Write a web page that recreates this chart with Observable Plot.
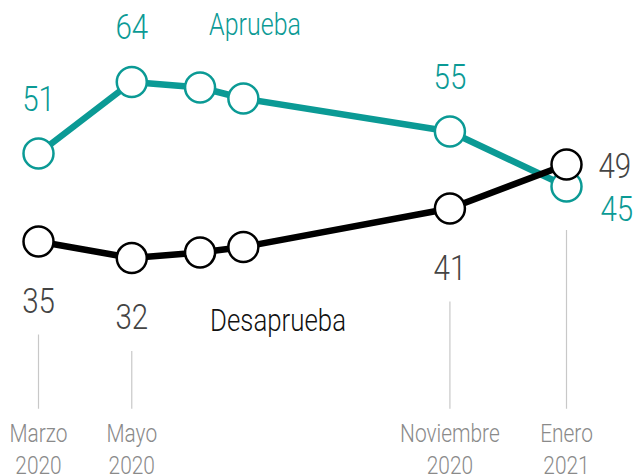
<!DOCTYPE html>
<html><head><meta charset="utf-8">
<script src="https://cdn.jsdelivr.net/npm/d3@7"></script>
<script src="https://cdn.jsdelivr.net/npm/@observablehq/plot@0.6"></script>
<style>
body{margin:0;background:#fff}
#chart svg{display:block}
</style></head><body><div id="chart"></div>
<script>
// Data
const dates = ["2020-03-10","2020-05-05","2020-06-15","2020-07-11","2020-11-12","2021-01-21"];
const tickLabels = ["Marzo\n2020","Mayo\n2020","","","Noviembre\n2020","Enero\n2021"];
const aprueba = [51,64,63,61,55,45];
const desaprueba = [35,32,33,34,41,49];
const labeled = [true,true,false,false,true,true];
const seriesNames = ["Aprueba","Desaprueba"];

const teal = "#0b9a95";
const dark = "#000";
const parse = d3.utcParse("%Y-%m-%d");
const X = dates.map(parse);
const last = X.length - 1;

const rowsA = X.map((d,i)=>({date:d, value:aprueba[i], i}));
const rowsD = X.map((d,i)=>({date:d, value:desaprueba[i], i}));

const ticks = X.map((d,i)=>({date:d, label:tickLabels[i], i,
  top: i === last ? Math.min(aprueba[i],desaprueba[i]) - 8 : desaprueba[i] - 17}))
  .filter(t=>t.label);

const font = "Roboto,'DejaVu Sans Condensed',sans-serif";

const chart = Plot.plot({
  width: 634, height: 475,
  marginTop: 0, marginRight: 0, marginBottom: 0, marginLeft: 0,
  style: {fontFamily: font, fontWeight: 300, background: "#fff", overflow: "visible"},
  x: {type: "utc", domain: [X[0], X[last]], range: [38, 566], axis: null},
  y: {domain: [30, 70], range: [268.5, 48.5], axis: null},
  marks: [
    Plot.ruleX(ticks, {x: "date", y1: "top", y2: 4.5, stroke: "#c8c8c8", strokeWidth: 1.2}),
    Plot.text(ticks, {x: "date", text: "label", frameAnchor: "bottom", lineAnchor: "bottom",
      dy: -2, lineHeight: 1.22, fontSize: 25.5, fill: "#8a8a8a"}),
    Plot.line(rowsA, {x: "date", y: "value", stroke: teal, strokeWidth: 6.5}),
    Plot.dot(rowsA, {x: "date", y: "value", r: 15, fill: "#fff", stroke: teal, strokeWidth: 2.5}),
    Plot.line(rowsD, {x: "date", y: "value", stroke: dark, strokeWidth: 6.5}),
    Plot.dot(rowsD, {x: "date", y: "value", r: 15, fill: "#fff", stroke: dark, strokeWidth: 2.5}),
    // value labels
    Plot.text(rowsA.filter(r=>labeled[r.i] && r.i!==last), {x:"date", y:"value", text: d=>String(d.value),
      dy: -43, lineAnchor: "bottom", fontSize: 36, fill: teal}),
    Plot.text(rowsD.filter(r=>labeled[r.i] && r.i!==last), {x:"date", y:"value", text: d=>String(d.value),
      dy: 71, lineAnchor: "bottom", fontSize: 36, fill: "#444"}),
    Plot.text(rowsD.filter(r=>r.i===last), {x:"date", y:"value", text: d=>String(d.value),
      dx: 32, dy: 2, textAnchor: "start", lineAnchor: "middle", fontSize: 36, fill: "#444"}),
    Plot.text(rowsA.filter(r=>r.i===last), {x:"date", y:"value", text: d=>String(d.value),
      dx: 34, dy: 23, textAnchor: "start", lineAnchor: "middle", fontSize: 36, fill: teal}),
    // series labels
    Plot.text(rowsA.filter(r=>r.i===2), {x:"date", y:"value", text: ()=>seriesNames[0],
      dx: 9, dy: -53, textAnchor: "start", lineAnchor: "bottom", fontSize: 30.5, fill: teal}),
    Plot.text(rowsD.filter(r=>r.i===2), {x:"date", y:"value", text: ()=>seriesNames[1],
      dx: 10, dy: 78, textAnchor: "start", lineAnchor: "bottom", fontSize: 31.5, fill: "#111"})
  ]
});
// condensed look: compress text horizontally around each anchor
chart.querySelectorAll("text").forEach(t => {
  const tr = t.getAttribute("transform") || "";
  t.setAttribute("transform", (tr + " scale(0.82,1)").trim());
});
document.getElementById("chart").append(chart);
</script></body></html>
